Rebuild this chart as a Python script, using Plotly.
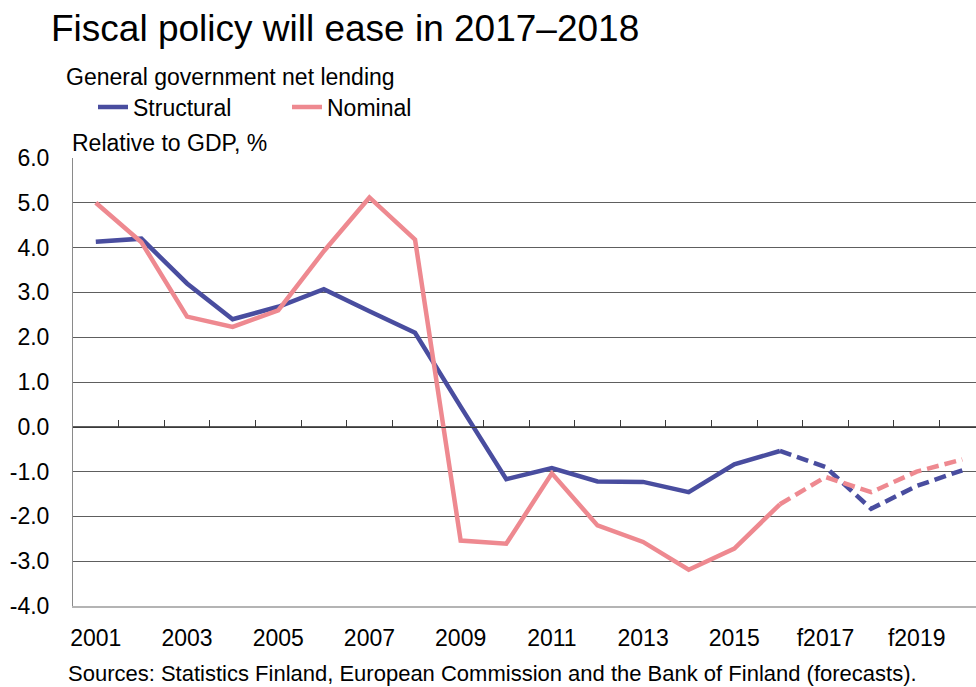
import plotly.graph_objects as go

years = ["2001", "2002", "2003", "2004", "2005", "2006", "2007", "2008", "2009", "2010",
         "2011", "2012", "2013", "2014", "2015", "2016", "f2017", "f2018", "f2019", "f2020"]
structural = [4.13, 4.2, 3.2, 2.4, 2.68, 3.07, 2.58, 2.1, 0.45, -1.17,
              -0.92, -1.22, -1.23, -1.46, -0.84, -0.54, -0.9, -1.83, -1.32, -0.97]
nominal = [5.0, 4.12, 2.46, 2.23, 2.6, 3.92, 5.12, 4.18, -2.54, -2.61,
           -1.04, -2.2, -2.57, -3.19, -2.72, -1.73, -1.12, -1.46, -1.0, -0.73]
n_actual = 16  # 2001-2016 actual, rest forecast
tick_labels = ["2001", "2003", "2005", "2007", "2009", "2011", "2013", "2015", "f2017", "f2019"]
y_ticks = [6, 5, 4, 3, 2, 1, 0, -1, -2, -3, -4]

BLUE = "#494d9f"
PINK = "#ee8990"
FONT = "Liberation Sans, Arial, sans-serif"
LW = 4.5

fig = go.Figure()
fig.add_trace(go.Scatter(x=years[:n_actual], y=structural[:n_actual], mode="lines",
                         name="Structural", line=dict(color=BLUE, width=LW), legend="legend"))
fig.add_trace(go.Scatter(x=years[n_actual - 1:], y=structural[n_actual - 1:], mode="lines",
                         showlegend=False, line=dict(color=BLUE, width=LW, dash="12px,6px")))
fig.add_trace(go.Scatter(x=years[:n_actual], y=nominal[:n_actual], mode="lines",
                         name="Nominal", line=dict(color=PINK, width=LW), legend="legend2"))
fig.add_trace(go.Scatter(x=years[n_actual - 1:], y=nominal[n_actual - 1:], mode="lines",
                         showlegend=False, line=dict(color=PINK, width=LW, dash="12px,6px")))
# helper trace so the zero-line axis with boundary ticks is rendered
fig.add_trace(go.Scatter(x=[0], y=[0], xaxis="x2", mode="markers",
                         marker=dict(opacity=0), showlegend=False, hoverinfo="skip"))

L, T, B = 73, 158, 81
W, H = 976, 687
PW = W - L
PH = H - T - B


def px_x(p):
    return (p - L) / PW


def px_y(p):
    return (H - B - p) / PH


fig.update_layout(
    width=W, height=H,
    margin=dict(l=L, r=0, t=T, b=B),
    paper_bgcolor="white", plot_bgcolor="white",
    font=dict(family=FONT, color="#000000", size=23),
    xaxis=dict(type="category", categoryorder="array", categoryarray=years,
               range=[-0.5, 19.3], tickmode="array", tickvals=tick_labels, ticktext=tick_labels,
               ticks="outside", ticklen=10, tickcolor="rgba(0,0,0,0)",
               showgrid=False, showline=True, linecolor="#b4b4b4", linewidth=2,
               tickfont=dict(size=23), zeroline=False),
    xaxis2=dict(overlaying="x", anchor="free", position=0.4, side="top", type="linear",
                range=[-0.5, 19.3], tickmode="array", tickvals=[i + 0.5 for i in range(19)],
                ticks="outside", ticklen=7, tickcolor="#3a3a3a", tickwidth=1,
                showticklabels=False, showgrid=False, showline=True, linecolor="#3a3a3a",
                linewidth=1, zeroline=False),
    yaxis=dict(range=[-4, 6], tickmode="array", tickvals=y_ticks,
               ticktext=[f"{v:.1f}" for v in y_ticks], showgrid=True, gridcolor="#5e5e5e",
               gridwidth=1, zeroline=False, showline=True, linecolor="#8a8a8a", linewidth=1,
               ticks="", ticklabelstandoff=18, tickfont=dict(size=23)),
    legend=dict(orientation="h", x=px_x(93), xanchor="left", y=px_y(107), yanchor="middle",
                font=dict(size=23), bgcolor="rgba(0,0,0,0)", itemwidth=30),
    legend2=dict(orientation="h", x=px_x(287), xanchor="left", y=px_y(107), yanchor="middle",
                 font=dict(size=23), bgcolor="rgba(0,0,0,0)", itemwidth=30),
    showlegend=True,
    annotations=[
        dict(text="Fiscal policy will ease in 2017\u20132018", xref="paper", yref="paper",
             x=px_x(49), y=px_y(28), xanchor="left", yanchor="middle", showarrow=False,
             font=dict(size=37)),
        dict(text="General government net lending", xref="paper", yref="paper",
             x=px_x(64), y=px_y(77), xanchor="left", yanchor="middle", showarrow=False,
             font=dict(size=23)),
        dict(text="Relative to GDP, %", xref="paper", yref="paper",
             x=px_x(70), y=px_y(143), xanchor="left", yanchor="middle", showarrow=False,
             font=dict(size=23)),
        dict(text="Sources: Statistics Finland, European Commission and the Bank of Finland (forecasts).",
             xref="paper", yref="paper", x=px_x(66), y=px_y(673), xanchor="left",
             yanchor="middle", showarrow=False, font=dict(size=22)),
    ],
)

fig.write_html("out.html")
